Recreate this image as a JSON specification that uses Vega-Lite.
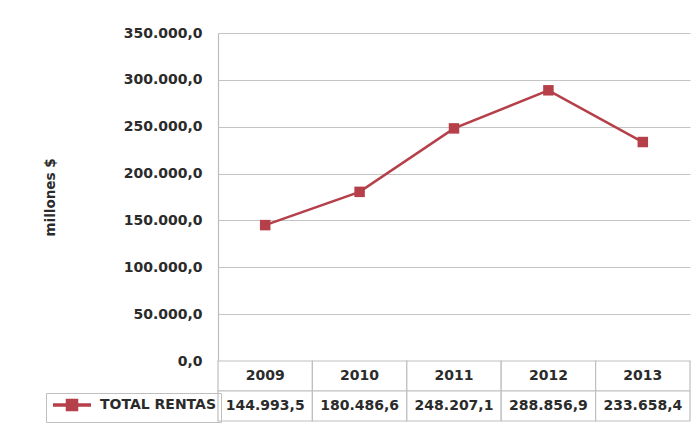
{
  "$schema": "https://vega.github.io/schema/vega-lite/v6.json",
  "width": 472,
  "height": 388,
  "autosize": {"type": "none"},
  "padding": {"left": 218, "top": 33, "right": 7, "bottom": 3},
  "background": "white",
  "config": {
    "view": {"stroke": null},
    "locale": {"number": {"decimal": ",", "thousands": ".", "grouping": [3], "currency": ["$", ""]}},
    "font": "DejaVu Sans"
  },
  "data": {
    "values": [
      {"year": "2009", "value": 144993.5},
      {"year": "2010", "value": 180486.6},
      {"year": "2011", "value": 248207.1},
      {"year": "2012", "value": 288856.9},
      {"year": "2013", "value": 233658.4}
    ]
  },
  "encoding": {
    "x": {"field": "year", "type": "ordinal", "scale": {"type": "band", "paddingInner": 0, "paddingOuter": 0}, "axis": null}
  },
  "resolve": {"scale": {"y": "independent"}},
  "layer": [
    {
      "layer": [
        {
          "mark": {"type": "line", "strokeWidth": 2.5},
          "encoding": {
            "y": {
              "field": "value", "type": "quantitative",
              "scale": {"domain": [0, 350000], "range": [328, 0], "nice": false, "zero": true},
              "axis": {
                "values": [0, 50000, 100000, 150000, 200000, 250000, 300000, 350000],
                "format": ",.1f",
                "grid": true, "gridColor": "#c4c4c4", "gridWidth": 1.2,
                "domain": true, "domainColor": "#bdbdbd", "domainWidth": 1.2,
                "ticks": false,
                "labelPadding": 16,
                "labelFont": "DejaVu Sans", "labelFontSize": 14, "labelFontWeight": "bold", "labelColor": "#2b2b2b",
                "title": "millones $",
                "titleFont": "DejaVu Sans", "titleFontSize": 13.5, "titleFontWeight": "bold", "titleColor": "#2b2b2b",
                "titlePadding": 66
              }
            },
            "color": {
              "datum": "TOTAL RENTAS",
              "scale": {"range": ["#b5404a"]},
              "legend": {
                "title": null,
                "orient": "none",
                "legendX": -172,
                "legendY": 360,
                "symbolType": "M-1,0L6.6,0M1.9,-0.9L3.7,-0.9L3.7,0.9L1.9,0.9Z",
                "symbolSize": 100,
                "symbolFillColor": "#b5404a",
                "symbolStrokeColor": "#b5404a",
                "symbolStrokeWidth": 3.5,
                "labelFont": "DejaVu Sans", "labelFontSize": 14, "labelFontWeight": "bold", "labelColor": "#2b2b2b",
                "labelOffset": 35,
                "strokeColor": "#bfbfbf",
                "padding": 5
              }
            }
          }
        },
        {
          "mark": {"type": "point", "shape": "square", "filled": true, "size": 110, "opacity": 1, "color": "#b5404a"},
          "encoding": {
            "y": {"field": "value", "type": "quantitative", "scale": {"domain": [0, 350000], "range": [328, 0], "nice": false}}
          }
        }
      ]
    },
    {
      "layer": [
        {
          "mark": {"type": "rect", "fill": "white", "stroke": "#bfbfbf", "strokeWidth": 1.2},
          "encoding": {"y": {"datum": "h", "type": "ordinal", "scale": {"domain": ["h", "v"], "range": [328, 388], "paddingInner": 0, "paddingOuter": 0}, "axis": null}}
        },
        {
          "mark": {"type": "rect", "fill": "white", "stroke": "#bfbfbf", "strokeWidth": 1.2},
          "encoding": {"y": {"datum": "v", "type": "ordinal"}}
        },
        {
          "mark": {"type": "text", "font": "DejaVu Sans", "fontSize": 14, "fontWeight": "bold", "color": "#2b2b2b"},
          "encoding": {"y": {"datum": "h", "type": "ordinal"}, "text": {"field": "year"}}
        },
        {
          "mark": {"type": "text", "font": "DejaVu Sans", "fontSize": 14, "fontWeight": "bold", "color": "#2b2b2b"},
          "encoding": {"y": {"datum": "v", "type": "ordinal"}, "text": {"field": "value", "type": "quantitative", "format": ",.1f"}}
        }
      ]
    }
  ]
}
